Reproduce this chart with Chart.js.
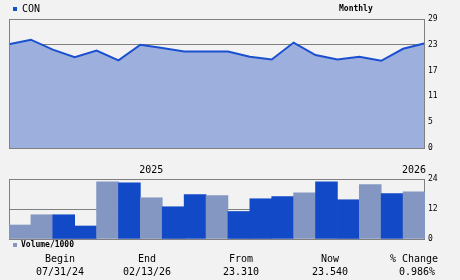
<!DOCTYPE html>
<html>
<head>
<meta charset="utf-8">
<script src="https://cdn.jsdelivr.net/npm/chart.js@4.4.1/dist/chart.umd.min.js"></script>
<style>
  body { margin: 0; background: #f2f2f2; width: 460px; height: 280px; overflow: hidden; position: relative; font-family: "DejaVu Sans Mono", monospace; }
  #prezzo { position: absolute; left: 0; top: 0; }
  #volume { position: absolute; left: 0; top: 160px; }
  .txt { position: absolute; white-space: nowrap; color: #000; }
  .quadro { position: absolute; width: 4px; height: 4px; }
  .centro { width: 100px; text-align: center; font-size: 10px; line-height: 12px; }
</style>
</head>
<body>
<canvas id="prezzo" width="460" height="160"></canvas>
<canvas id="volume" width="460" height="120"></canvas>

<div class="quadro" style="left:13px; top:7px; background:#1450c8;"></div>
<div class="txt" style="left:22px; top:3px; font-size:10px; line-height:12px;">CON</div>
<div class="txt" style="left:339px; top:4px; font-size:8px; line-height:10px; font-weight:bold;">Monthly</div>

<div class="quadro" style="left:13px; top:243px; background:#8497c2;"></div>
<div class="txt" style="left:21px; top:240px; font-size:8px; line-height:10px; font-weight:bold;">Volume/1000</div>

<div class="txt centro" style="left:10px; top:253px;">Begin</div>
<div class="txt centro" style="left:10px; top:266px;">07/31/24</div>
<div class="txt centro" style="left:97px; top:253px;">End</div>
<div class="txt centro" style="left:97px; top:266px;">02/13/26</div>
<div class="txt centro" style="left:191px; top:253px;">From</div>
<div class="txt centro" style="left:191px; top:266px;">23.310</div>
<div class="txt centro" style="left:280px; top:253px;">Now</div>
<div class="txt centro" style="left:280px; top:266px;">23.540</div>
<div class="txt centro" style="left:364px; top:253px;">% Change</div>
<div class="txt centro" style="left:367px; top:266px;">0.986%</div>

<script>
// dati
var mesiPrezzo = ['Jul 24', 'Aug 24', 'Sep 24', 'Oct 24', 'Nov 24', 'Dec 24', 'Jan 25', 'Feb 25', 'Mar 25', 'Apr 25',
  'May 25', 'Jun 25', 'Jul 25', 'Aug 25', 'Sep 25', 'Oct 25', 'Nov 25', 'Dec 25', 'Jan 26', 'Feb 26'];
var prezzi = [23.31, 24.35, 22.1, 20.4, 21.9, 19.7, 23.2, 22.5, 21.7, 21.7,
  21.7, 20.5, 19.9, 23.7, 20.9, 19.9, 20.5, 19.6, 22.3, 23.54];

var mesiVolume = ['Jul 24', 'Aug 24', 'Sep 24', 'Oct 24', 'Nov 24', 'Dec 24', 'Jan 25', 'Feb 25', 'Mar 25', 'Apr 25',
  'May 25', 'Jun 25', 'Jul 25', 'Aug 25', 'Sep 25', 'Oct 25', 'Nov 25', 'Dec 25', 'Jan 26'];
var volumi = [5.6, 9.7, 9.7, 5.2, 22.9, 22.5, 16.5, 12.9, 17.8, 17.4,
  11.0, 16.1, 17.0, 18.5, 22.9, 15.7, 21.8, 18.2, 18.9];
var etichetteAnni = ['', '', '', '', '', '', '2025', '', '', '', '', '', '', '', '', '', '', '', '2026'];

var tickPrezzo = [0, 5.8, 11.6, 17.4, 23.2, 29];
var etichettePrezzo = ['0', '5', '11', '17', '23', '29'];
var tickVolume = [0, 12, 24];
var etichetteVolume = ['0', '12', '24'];

// colori delle barre (chiaro / scuro come nell'originale)
var chiaro = '#8497c2';
var scuro = '#1249c6';
var coloriBarre = [chiaro, chiaro, scuro, scuro, chiaro, scuro, chiaro, scuro, scuro, chiaro,
  scuro, scuro, scuro, chiaro, scuro, scuro, chiaro, scuro, chiaro];

Chart.defaults.font.family = 'DejaVu Sans Mono';
Chart.defaults.color = '#000';

function bordo(id, dopo) {
  var disegna = function(chart) {
    var a = chart.chartArea, ctx = chart.ctx;
    ctx.save();
    ctx.strokeStyle = '#808080';
    ctx.lineWidth = 1;
    ctx.strokeRect(Math.round(a.left) + 0.5, Math.round(a.top) + 0.5,
      Math.round(a.right - a.left) - 1, Math.round(a.bottom - a.top));
    ctx.restore();
  };
  var p = { id: id };
  if (dopo) p.afterDatasetsDraw = disegna; else p.beforeDatasetsDraw = disegna;
  return p;
}

new Chart(document.getElementById('prezzo').getContext('2d'), {
  type: 'line',
  data: {
    labels: mesiPrezzo,
    datasets: [{
      data: prezzi,
      borderColor: '#1a50d0',
      backgroundColor: '#9dafdc',
      borderWidth: 2,
      fill: 'origin',
      tension: 0,
      pointRadius: 0
    }]
  },
  options: {
    responsive: false,
    animation: false,
    layout: { padding: { left: 9, top: 19, bottom: 12, right: 0 } },
    plugins: { legend: { display: false }, tooltip: { enabled: false } },
    scales: {
      x: { display: false },
      y: {
        position: 'right',
        min: 0,
        max: 29,
        afterFit: function(s) { s.width = 35; },
        afterBuildTicks: function(s) { s.ticks = tickPrezzo.map(function(v) { return { value: v }; }); },
        grid: { color: '#808080', drawTicks: false },
        border: { display: false },
        ticks: {
          padding: 3,
          font: { size: 8 },
          callback: function(v, i) { return etichettePrezzo[i]; }
        }
      }
    }
  },
  plugins: [bordo('bordoPrezzo', true)]
});

new Chart(document.getElementById('volume').getContext('2d'), {
  type: 'bar',
  data: {
    labels: mesiVolume,
    datasets: [{
      data: volumi,
      backgroundColor: coloriBarre,
      borderWidth: 0,
      barPercentage: 1,
      categoryPercentage: 1
    }]
  },
  options: {
    responsive: false,
    animation: false,
    layout: { padding: { left: 9, top: 0, bottom: 41, right: 0 } },
    plugins: { legend: { display: false }, tooltip: { enabled: false } },
    scales: {
      x: {
        position: 'top',
        afterFit: function(s) { s.height = 19; },
        grid: { display: false, drawTicks: false },
        border: { display: false },
        ticks: {
          autoSkip: false,
          maxRotation: 0,
          padding: 3,
          font: { size: 10 },
          callback: function(v, i) { return etichetteAnni[i]; }
        }
      },
      y: {
        position: 'right',
        min: 0,
        max: 24,
        afterFit: function(s) { s.width = 35; },
        afterBuildTicks: function(s) { s.ticks = tickVolume.map(function(v) { return { value: v }; }); },
        grid: { color: '#808080', drawTicks: false },
        border: { display: false },
        ticks: {
          padding: 3,
          font: { size: 8 },
          callback: function(v, i) { return etichetteVolume[i]; }
        }
      }
    }
  },
  plugins: [bordo('bordoVolume', false)]
});
</script>
</body>
</html>
